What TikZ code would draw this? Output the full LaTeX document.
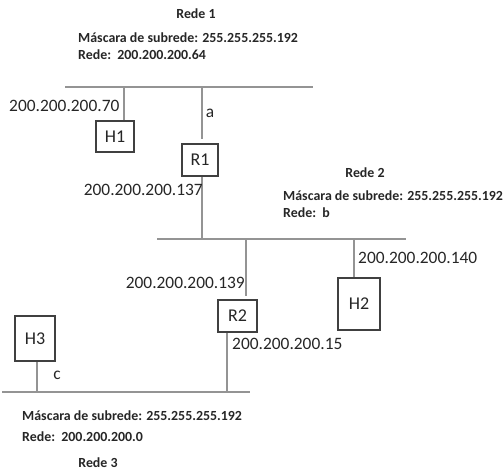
\documentclass[tikz,border=0pt]{standalone}
\usepackage{fontspec}
\setmainfont{Carlito}
\begin{document}
\begin{tikzpicture}[x=1pt,y=-1pt,
  bus/.style={draw=black!42, line width=1.3pt},
  tap/.style={draw=black!42, line width=1.3pt},
  dev/.style={draw=black!75, line width=2.5pt, fill=white, inner sep=0pt, font=\fontsize{18}{21}\selectfont, text=black!85},
  ip/.style={font=\fontsize{17.4}{20}\selectfont, text=black!85, inner sep=0pt},
  info/.style={font=\bfseries\fontsize{13.9}{16}\selectfont, text=black!85, inner sep=0pt, anchor=west},
  title/.style={font=\bfseries\fontsize{13.9}{16}\selectfont, text=black!85, inner sep=0pt}]
\useasboundingbox (0,0) rectangle (503,475);
% buses
\coordinate (b1w) at (65,87); \coordinate (b1e) at (313,87);
\coordinate (b2w) at (157,239); \coordinate (b2e) at (406,239);
\coordinate (b3w) at (2,392); \coordinate (b3e) at (250,392);
\draw[bus] (b1w) -- (b1e);
\draw[bus] (b2w) -- (b2e);
\draw[bus] (b3w) -- (b3e);
% devices
\node[dev, minimum width=38pt, minimum height=31pt] (H1) at (115,136.5) {H1};
\node[dev, minimum width=36pt, minimum height=32pt] (R1) at (200,160) {R1};
\node[dev, minimum width=39pt, minimum height=32pt] (R2) at (237.5,316) {R2};
\node[dev, minimum width=42pt, minimum height=52pt] (H2) at (359,304) {H2};
\node[dev, minimum width=40pt, minimum height=45pt] (H3) at (35,338.5) {H3};
% taps
\coordinate (t1) at (124,87);
\coordinate (t2) at (202,87);
\coordinate (t2e) at (202,139);
\coordinate (t3) at (202,239);
\coordinate (t4) at (246,239);
\coordinate (t4e) at (246,296);
\coordinate (t5) at (354,239);
\coordinate (t6) at (227,392);
\coordinate (t7) at (37,392);
\draw[tap] (t1) -- (t1 |- H1.north);
\draw[tap] (t2) -- (t2e);
\draw[tap] (t2 |- R1.south) -- (t3);
\draw[tap] (t4) -- (t4e);
\draw[tap] (t5) -- (t5 |- H2.north);
\draw[tap] (t6 |- R2.south) -- (t6);
\draw[tap] (t7 |- H3.south) -- (t7);
% texts
\node[title] (r1t) at (196,14) {Rede 1};
\node[info] (m1) at (78,38) {Máscara de subrede: 255.255.255.192};
\node[info] (n1) at (78,55) {Rede:\ \ 200.200.200.64};
\node[ip, anchor=west] (ip70) at (9,106) {200.200.200.70};
\node[ip] (la) at (210,113) {a};
\node[ip, anchor=east] (ip137) at (203,190) {200.200.200.137};
\node[title] (r2t) at (365,173) {Rede 2};
\node[info] (m2) at (283,196) {Máscara de subrede: 255.255.255.192};
\node[info] (n2) at (283,213) {Rede:\ \ b};
\node[ip, anchor=west] (ip140) at (358,258) {200.200.200.140};
\node[ip, anchor=east] (ip139) at (245,283) {200.200.200.139};
\node[ip, anchor=west] (ip15) at (232,344) {200.200.200.15};
\node[ip] (lc) at (57,375) {c};
\node[info] (m3) at (22,416) {Máscara de subrede: 255.255.255.192};
\node[info] (n3) at (22,437) {Rede:\ \ 200.200.200.0};
\node[title] (r3t) at (98,463) {Rede 3};
\end{tikzpicture}
\end{document}
